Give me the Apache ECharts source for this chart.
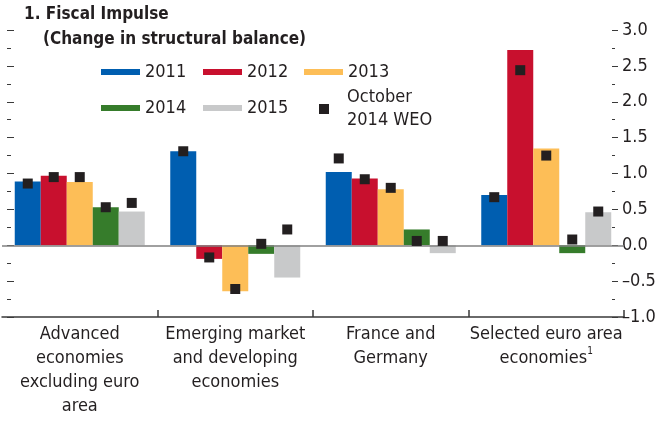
<!DOCTYPE html>
<html>
<head>
<meta charset="utf-8">
<script src="https://cdn.jsdelivr.net/npm/echarts@6/dist/echarts.min.js"></script>
<style>
  html, body { margin: 0; padding: 0; background: #fff; }
  #chart { width: 660px; height: 421px; }
</style>
</head>
<body>
<div id="chart"></div>
<script>
  const categories = [
    'Advanced\neconomies\nexcluding euro\narea',
    'Emerging market\nand developing\neconomies',
    'France and\nGermany',
    'Selected euro area\neconomies{sup|1}'
  ];
  const years = ['2011', '2012', '2013', '2014', '2015'];
  const s2011 = [0.89, 1.31, 1.02, 0.70];
  const s2012 = [0.97, -0.19, 0.93, 2.72];
  const s2013 = [0.88, -0.64, 0.78, 1.35];
  const s2014 = [0.53, -0.12, 0.22, -0.11];
  const s2015 = [0.47, -0.45, -0.11, 0.46];
  // October 2014 WEO markers, one array per year bar
  const weo2011 = [0.86, 1.31, 1.21, 0.67];
  const weo2012 = [0.95, -0.17, 0.92, 2.44];
  const weo2013 = [0.95, -0.61, 0.80, 1.25];
  const weo2014 = [0.53, 0.02, 0.06, 0.08];
  const weo2015 = [0.59, 0.22, 0.06, 0.47];

  const barValues = [s2011, s2012, s2013, s2014, s2015];
  const weoValues = [weo2011, weo2012, weo2013, weo2014, weo2015];
  const colors = ['#005eb0', '#c8102e', '#fdbe57', '#367c2b', '#c8c9ca'];
  const weoName = 'October 2014 WEO';

  const font = "'Liberation Sans Narrow', 'DejaVu Sans Condensed', sans-serif";
  const ink = '#231f20';
  const barW = 26;

  const barSeries = years.map((y, i) => ({
    name: y,
    type: 'bar',
    data: barValues[i],
    barWidth: barW,
    barGap: '0%',
    itemStyle: { color: colors[i] },
    z: 2
  }));
  barSeries[0].markLine = {
    silent: true,
    symbol: 'none',
    label: { show: false },
    lineStyle: { color: '#808080', width: 1.5, type: 'solid' },
    data: [{ yAxis: 0 }],
    z: 3
  };

  const weoSeries = years.map((y, i) => ({
    name: weoName,
    type: 'scatter',
    data: weoValues[i],
    symbol: 'rect',
    symbolSize: 10,
    symbolOffset: [(i - 2) * barW, 0],
    itemStyle: { color: ink, opacity: 1 },
    z: 5
  }));

  function legendItem(name, left, top, extra) {
    return Object.assign({
      data: [name],
      left: left,
      top: top,
      padding: 0,
      itemWidth: 39,
      itemHeight: 6,
      icon: 'rect',
      selectedMode: false,
      textStyle: { fontFamily: font, fontSize: 18, color: ink }
    }, extra || {});
  }

  const option = {
    animation: false,
    title: [
      { text: '1. Fiscal Impulse', left: 24, top: 6, padding: 0,
        textStyle: { fontFamily: font, fontSize: 17, fontWeight: 'bold', color: ink } },
      { text: '(Change in structural balance)', left: 43, top: 31, padding: 0,
        textStyle: { fontFamily: font, fontSize: 17, fontWeight: 'bold', color: ink } }
    ],
    legend: [
      legendItem('2011', 101, 63),
      legendItem('2012', 203, 63),
      legendItem('2013', 304, 63),
      legendItem('2014', 101, 99),
      legendItem('2015', 203, 99),
      legendItem(weoName, 319, 86, {
        itemWidth: 10,
        itemHeight: 10,
        formatter: () => 'October\n2014 WEO',
        textStyle: { fontFamily: font, fontSize: 18, color: ink, lineHeight: 23, padding: [0, 0, 0, 13] }
      })
    ],
    grid: { left: 2, right: 36, top: 30, bottom: 104 },
    xAxis: {
      type: 'category',
      data: categories,
      boundaryGap: true,
      axisLine: { show: true, onZero: false, lineStyle: { color: '#3a3a3a', width: 1.5 } },
      axisTick: {
        show: true, inside: true, length: 7,
        interval: idx => idx !== 0,
        lineStyle: { color: '#3a3a3a', width: 1.5 }
      },
      axisLabel: {
        interval: 0,
        margin: 5,
        fontFamily: font,
        fontSize: 18,
        lineHeight: 24,
        color: ink,
        rich: {
          sup: { fontFamily: font, fontSize: 10, color: ink, verticalAlign: 'top', lineHeight: 24 }
        }
      },
      splitLine: { show: false }
    },
    yAxis: [
      {
        type: 'value',
        position: 'right',
        offset: -12,
        min: -1,
        max: 3,
        interval: 0.5,
        axisLine: { show: false },
        axisTick: { show: true, length: 6, lineStyle: { color: '#3a3a3a', width: 1 } },
        minorTick: { show: true, splitNumber: 2, length: 3, lineStyle: { color: '#3a3a3a', width: 1 } },
        splitLine: { show: false },
        axisLabel: {
          margin: 10,
          padding: [6, 0, 0, 0],
          fontFamily: font,
          fontSize: 18,
          color: ink,
          formatter: v => (v < 0 ? '\u2013' : '') + Math.abs(v).toFixed(1)
        }
      },
      {
        type: 'value',
        position: 'left',
        offset: -5,
        min: -1,
        max: 3,
        interval: 0.5,
        axisLine: { show: false },
        axisTick: { show: true, inside: true, length: 7, lineStyle: { color: '#3a3a3a', width: 1 } },
        minorTick: { show: true, splitNumber: 2, length: 4, lineStyle: { color: '#3a3a3a', width: 1 } },
        splitLine: { show: false },
        axisLabel: { show: false }
      }
    ],
    series: barSeries.concat(weoSeries)
  };

  const chart = echarts.init(document.getElementById('chart'), null, { renderer: 'canvas' });
  chart.setOption(option);
</script>
</body>
</html>
